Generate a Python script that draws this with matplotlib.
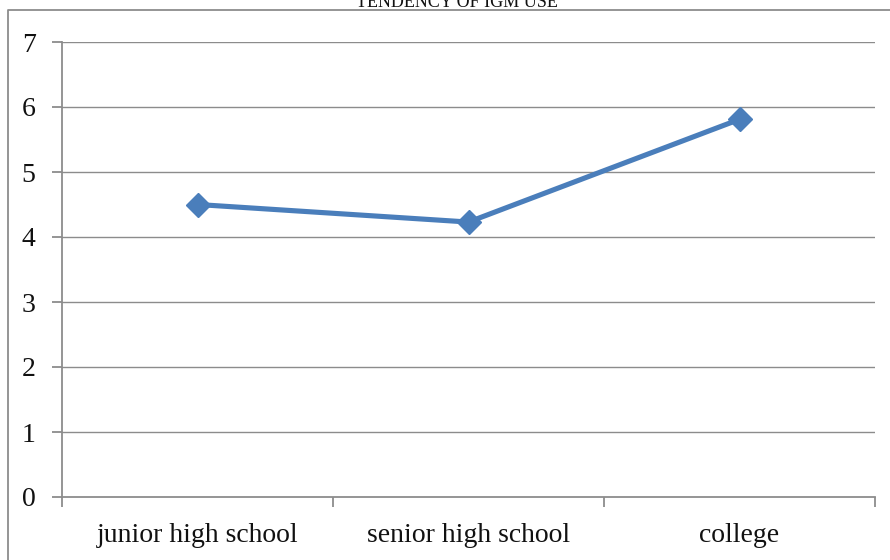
import matplotlib
matplotlib.use("Agg")
import matplotlib.pyplot as plt
from matplotlib.lines import Line2D

# data
levels = ["junior high school", "senior high school", "college"]
scores = [4.5, 4.23, 5.81]
y_ticks = [0, 1, 2, 3, 4, 5, 6, 7]

grey = "#8c8c8c"
blue = "#4a7ebb"

fig = plt.figure(figsize=(8.9, 5.6), dpi=100)
ax = fig.add_axes([62 / 890, 63 / 560, 813 / 890, 455 / 560])

x = [i + 0.5 for i in range(len(levels))]
ax.plot(x, scores, color=blue, linewidth=3.7, marker="D", markersize=12,
        markerfacecolor=blue, markeredgecolor=blue, solid_capstyle="round", zorder=3)

ax.set_xlim(0, len(levels))
ax.set_ylim(0, 7)
ax.set_yticks(y_ticks)
ax.set_yticklabels([str(t) for t in y_ticks])
ax.set_xticks(range(len(levels) + 1))
ax.set_xticklabels([])
ax.set_xticks(x, minor=True)
ax.set_xticklabels(levels, minor=True)

for t in y_ticks[1:]:
    ax.axhline(t, color=grey, linewidth=1.0, zorder=1)

for side in ["top", "right"]:
    ax.spines[side].set_visible(False)
for side in ["left", "bottom"]:
    ax.spines[side].set_color(grey)
    ax.spines[side].set_linewidth(1.3)

ax.tick_params(axis="y", length=7, width=1.3, color=grey, pad=12, labelsize=20)
ax.tick_params(axis="x", which="major", length=7, width=1.3, color=grey)
ax.tick_params(axis="x", which="minor", length=0, pad=19, labelsize=20)
for lab in ax.get_yticklabels() + ax.get_xticklabels(minor=True):
    lab.set_fontfamily("Liberation Serif")
    lab.set_color("#111111")

# outer chart frame (top and left edges only show)
fig.add_artist(Line2D([8 / 890, 8 / 890, 1.0], [0.0, 1 - 10 / 560, 1 - 10 / 560],
                      transform=fig.transFigure, color=grey, linewidth=1.3))

fig.text(457 / 890, 1 - 7 / 560, "TENDENCY OF IGM USE", ha="center", va="baseline",
         fontsize=13, family="Liberation Serif", color="#111111")

fig.savefig("out.png", dpi=100)
